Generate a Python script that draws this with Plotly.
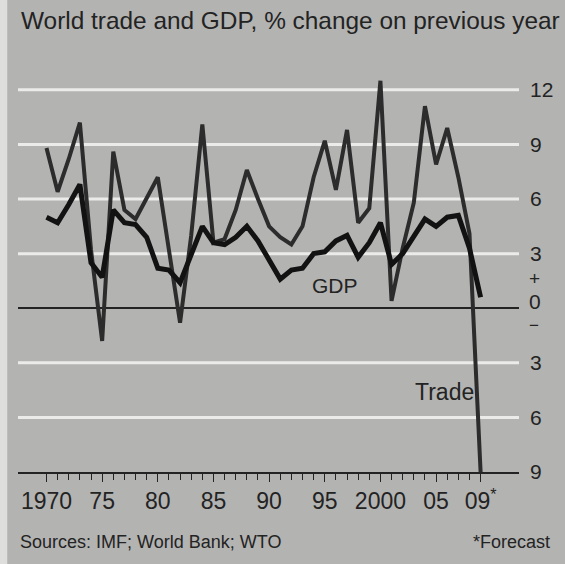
import plotly.graph_objects as go

# World trade volume and world GDP, % change on previous year
years = list(range(1970, 2010))
trade = [8.8, 6.4, 8.2, 10.2, 3.2, -1.8, 8.6, 5.4, 4.9, 6.1,
         7.2, 3.2, -0.8, 4.0, 10.1, 3.6, 3.8, 5.4, 7.6, 6.0,
         4.5, 3.9, 3.5, 4.5, 7.2, 9.2, 6.5, 9.8, 4.7, 5.5,
         12.5, 0.4, 3.3, 5.8, 11.1, 7.9, 9.9, 7.2, 4.1, -9.0]
gdp = [5.0, 4.7, 5.7, 6.8, 2.5, 1.7, 5.4, 4.7, 4.6, 3.9,
       2.2, 2.1, 1.4, 3.0, 4.5, 3.6, 3.5, 3.9, 4.5, 3.7,
       2.6, 1.6, 2.1, 2.2, 3.0, 3.1, 3.7, 4.0, 2.8, 3.6,
       4.7, 2.4, 3.0, 3.9, 4.9, 4.5, 5.0, 5.1, 3.3, 0.6]

x_tick_years = [1970, 1975, 1980, 1985, 1990, 1995, 2000, 2005, 2009]
x_tick_text = ["1970", "75", "80", "85", "90", "95", "2000", "05", "09<sup>*</sup>"]
y_tick_vals = [-9, -6, -3, 3, 6, 9, 12]
y_tick_text = ["9", "6", "3", "3", "6", "9", "12"]
grid_levels = [12, 9, 6, 3, -3, -6]

BG = "#b3b3b2"
INK = "#232323"
FONT = "Liberation Sans, Arial, sans-serif"

fig = go.Figure()
fig.add_trace(go.Scatter(x=years, y=trade, mode="lines", name="Trade",
                         line=dict(color="#2c2c2c", width=4.0)))
fig.add_trace(go.Scatter(x=years, y=gdp, mode="lines", name="GDP",
                         line=dict(color="#121212", width=5.0)))

shapes = [dict(type="line", xref="paper", x0=0, x1=1, yref="y", y0=v, y1=v,
               line=dict(color="#ebebea", width=3), layer="below")
          for v in grid_levels]
# pale scanned edge on the left
shapes.append(dict(type="rect", xref="paper", yref="paper",
                   x0=-0.05, x1=-0.0215, y0=-0.5, y1=1.5,
                   fillcolor="#dededc", line=dict(width=0), layer="below"))

annotations = [
    dict(text="World trade and GDP, % change on previous year", xref="paper", yref="paper",
         x=0.002, y=1.095, xanchor="left", yanchor="middle", showarrow=False,
         font=dict(family=FONT, size=24.4, color=INK)),
    dict(text="GDP", xref="x", yref="y", x=1995.9, y=1.25, showarrow=False,
         font=dict(family=FONT, size=21, color=INK)),
    dict(text="Trade", xref="x", yref="y", x=2005.8, y=-4.6, showarrow=False,
         font=dict(family=FONT, size=23, color=INK)),
    # sign markers and zero label on the right-hand scale
    dict(text="+", xref="paper", yref="y", x=1.0, xshift=15, y=0, yshift=30,
         xanchor="center", yanchor="middle", showarrow=False,
         font=dict(family=FONT, size=19, color=INK)),
    dict(text="0", xref="paper", yref="y", x=1.0, xshift=16, y=0, yshift=7,
         xanchor="center", yanchor="middle", showarrow=False,
         font=dict(family=FONT, size=21, color=INK)),
    dict(text="\u2212", xref="paper", yref="y", x=1.0, xshift=15, y=0, yshift=-17,
         xanchor="center", yanchor="middle", showarrow=False,
         font=dict(family=FONT, size=17, color=INK)),
    dict(text="Sources: IMF; World Bank; WTO", xref="paper", yref="paper",
         x=0.0, y=-0.17, xanchor="left", yanchor="middle", showarrow=False,
         font=dict(family=FONT, size=18, color=INK)),
    dict(text="*Forecast", xref="paper", yref="paper",
         x=1.065, y=-0.17, xanchor="right", yanchor="middle", showarrow=False,
         font=dict(family=FONT, size=18, color=INK)),
]

fig.update_layout(
    width=565, height=564,
    margin=dict(l=18, r=37, t=60, b=92),
    paper_bgcolor=BG, plot_bgcolor=BG,
    showlegend=False,
    shapes=shapes,
    annotations=annotations,
    xaxis=dict(range=[1967.44, 2012.45], tickmode="array", tickvals=x_tick_years,
               ticktext=x_tick_text, showgrid=False, zeroline=False,
               showline=True, linecolor=INK, linewidth=1.5,
               ticks="outside", ticklen=8, tickcolor=INK, tickwidth=1.2,
               minor=dict(tickmode="array", tickvals=years, ticks="outside",
                          ticklen=6, tickcolor=INK, tickwidth=1),
               tickfont=dict(family=FONT, size=23, color=INK)),
    yaxis=dict(range=[-9, 13.64], side="right", tickmode="array",
               tickvals=y_tick_vals, ticktext=y_tick_text, showgrid=False,
               zeroline=True, zerolinecolor=INK, zerolinewidth=1.5,
               showline=False, ticks="", ticklabelstandoff=10,
               tickfont=dict(family=FONT, size=21, color=INK)),
)

fig.write_html("out.html")
